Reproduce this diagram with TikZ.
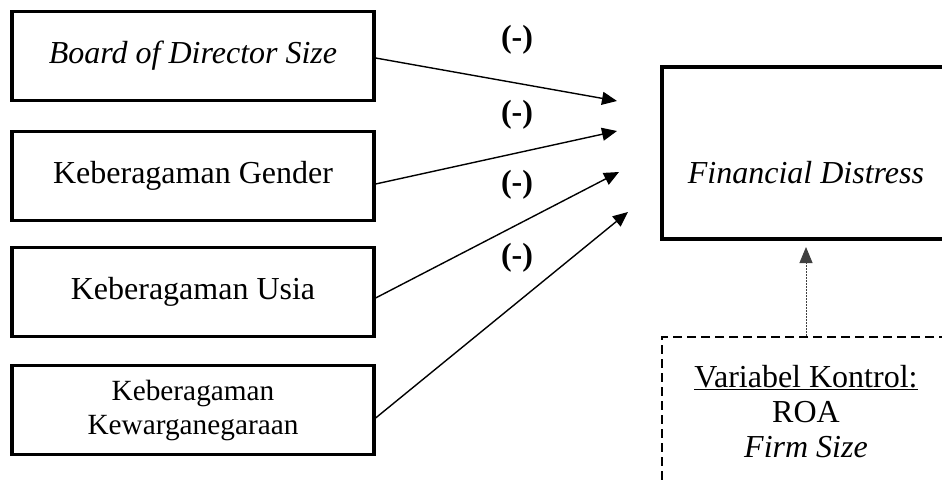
\documentclass[tikz,border=0pt]{standalone}
\usepackage{fontspec}
\setmainfont{Liberation Serif}
\usetikzlibrary{arrows.meta}
\begin{document}
\begin{tikzpicture}[x=1pt,y=-1pt,
  every node/.style={font=\fontsize{32}{37}\selectfont, inner sep=0pt},
  varbox/.style={draw, line width=3.2pt, minimum width=362pt, minimum height=89pt, align=center},
  bigbox/.style={draw, line width=3.2pt, minimum width=288pt},
  link/.style={line width=1.4pt, -{Triangle[length=15pt,width=13pt]}},
  ctrllink/.style={line width=0.9pt, black!75, dash pattern=on 1.5pt off 1.5pt,
    -{Triangle[length=16pt,width=13pt]}},
  sign/.style={font=\fontsize{32}{37}\selectfont\bfseries},
]
\useasboundingbox (0,0) rectangle (942,484);
\clip (0,0) rectangle (942,484);

% independent variables
\node[varbox] (bod) at (193,56)  {\itshape Board of Director Size};
\node[varbox] (gen) at (193,176) {Keberagaman Gender};
\node[varbox] (usia) at (193,292) {Keberagaman Usia};
\node[varbox, font=\fontsize{29.3}{34}\selectfont] (warga) at (193,410)
  {Keberagaman\\Kewarganegaraan};

% dependent variable
\node[bigbox, minimum height=172pt] (fd) at (806,153) {};
\node[anchor=base] (fdtext) at (806,183) {\itshape Financial Distress};

% control variables (box runs past the lower right edge)
\node[draw, line width=2.8pt, dash pattern=on 9pt off 5pt,
      minimum width=288pt, minimum height=186pt] (ctl) at (806,430) {};
\node[anchor=base] (ctla) at (806,387) {\underline{Variabel Kontrol:}};
\node[anchor=base] (ctlb) at (806,422) {ROA};
\node[anchor=base] (ctlc) at (806,457) {\itshape Firm Size};

% arrow tips
\coordinate (t1) at (617,101);
\coordinate (t2) at (617,131);
\coordinate (t3) at (619,172);
\coordinate (t4) at (628,212);
\coordinate (tc) at (806,247);

\draw[link] ([yshift=-2pt]bod.east) -- (t1);
\draw[link] ([yshift=-8pt]gen.east) -- (t2);
\draw[link] ([yshift=-6pt]usia.east) -- (t3);
\draw[link] ([yshift=-8pt]warga.east) -- (t4);
\draw[ctrllink] (ctl.north) -- (tc);

% signs of the hypothesised effects
\node[sign] (s1) at (517,40)  {(-)};
\node[sign] (s2) at (517,115) {(-)};
\node[sign] (s3) at (517,185) {(-)};
\node[sign] (s4) at (517,258) {(-)};
\end{tikzpicture}
\end{document}
